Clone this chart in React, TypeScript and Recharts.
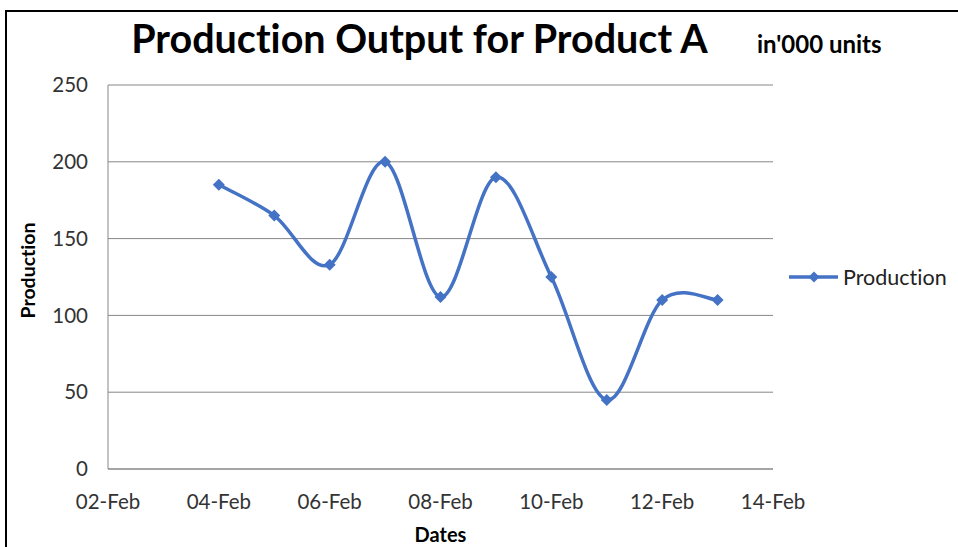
import React from "react";
import {
  LineChart,
  Line,
  XAxis,
  YAxis,
  CartesianGrid,
  Legend,
  Label,
} from "recharts";

// ---- data ----
const dates = ["04-Feb", "05-Feb", "06-Feb", "07-Feb", "08-Feb", "09-Feb", "10-Feb", "11-Feb", "12-Feb", "13-Feb"];
const production = [185, 165, 133, 200, 112, 190, 125, 45, 110, 110];
const xTickLabels = ["02-Feb", "04-Feb", "06-Feb", "08-Feb", "10-Feb", "12-Feb", "14-Feb"];
const yTicks = [0, 50, 100, 150, 200, 250];

const dayOf = (s: string) => parseInt(s.split("-")[0], 10);
const labelByDay: Record<number, string> = {};
xTickLabels.forEach((l) => (labelByDay[dayOf(l)] = l));
const xTicks = xTickLabels.map(dayOf);

const data = dates.map((d, i) => ({ day: dayOf(d), label: d, Production: production[i] }));

const BLUE = "#4472C4";
const GRID = "#878787";
const TICK = "#333333";

// Excel-like smoothing (Catmull-Rom style cubic Bezier)
function excelSmooth(context: any) {
  let pts: [number, number][] = [];
  return {
    areaStart() {},
    areaEnd() {},
    lineStart() {
      pts = [];
    },
    lineEnd() {
      const n = pts.length;
      if (n === 0) return;
      context.moveTo(pts[0][0], pts[0][1]);
      for (let i = 0; i < n - 1; i++) {
        const p0 = pts[i - 1] || pts[i];
        const p1 = pts[i];
        const p2 = pts[i + 1];
        const p3 = pts[i + 2] || pts[i + 1];
        context.bezierCurveTo(
          p1[0] + (p2[0] - p0[0]) / 6,
          p1[1] + (p2[1] - p0[1]) / 6,
          p2[0] - (p3[0] - p1[0]) / 6,
          p2[1] - (p3[1] - p1[1]) / 6,
          p2[0],
          p2[1]
        );
      }
    },
    point(x: number, y: number) {
      pts.push([+x, +y]);
    },
  };
}

const diamond = (cx: number, cy: number, r: number) =>
  `M${cx},${cy - r} L${cx + r},${cy} L${cx},${cy + r} L${cx - r},${cy} Z`;

const renderDot = (p: any) => {
  if (p.cx == null || p.cy == null) return <g key={p.index} />;
  return <path key={`dot-${p.index}`} d={diamond(p.cx, p.cy, 6)} fill={BLUE} stroke="none" />;
};

const renderLegend = (props: any) => {
  const { payload = [] } = props;
  return (
    <svg width={170} height={30} style={{ display: "block" }}>
      {payload.map((entry: any, i: number) => (
        <g key={i}>
          <line x1={3} y1={15} x2={52} y2={15} stroke={BLUE} strokeWidth={3.5} />
          <path d={diamond(28, 15, 5.5)} fill={BLUE} />
          <text
            x={57}
            y={15}
            dominantBaseline="central"
            fontSize={21.5}
            fill="#222"
            fontFamily="Lato"
            style={{ fontVariantLigatures: "none" }}
          >
            {entry.value}
          </text>
        </g>
      ))}
    </svg>
  );
};

export default function App() {
  return (
    <div
      style={{
        position: "absolute",
        left: 0,
        top: 0,
        width: 958,
        height: 547,
        overflow: "hidden",
        background: "#fff",
        fontFamily: "Lato, 'Noto Sans', sans-serif",
        fontVariantLigatures: "none",
      }}
    >
      <LineChart
        width={958}
        height={547}
        data={data}
        margin={{ top: 85, right: 185, bottom: 0, left: 18 }}
      >
        <CartesianGrid horizontal vertical={false} stroke={GRID} strokeWidth={1} />
        <XAxis
          dataKey="day"
          type="number"
          domain={[2, 14]}
          ticks={xTicks}
          tickFormatter={(v: number) => labelByDay[v] || ""}
          height={78}
          tickLine={false}
          tickSize={0}
          tickMargin={25}
          axisLine={{ stroke: GRID }}
          tick={{ fill: TICK, fontSize: 20.5 }}
          interval={0}
        >
          <Label
            value="Dates"
            position="insideBottom"
            offset={5}
            style={{ fontWeight: "bold", fontSize: 20, fill: "#000" }}
          />
        </XAxis>
        <YAxis
          type="number"
          domain={[0, 250]}
          ticks={yTicks}
          width={90}
          tickLine={false}
          tickSize={0}
          tickMargin={20}
          axisLine={{ stroke: GRID }}
          tick={{ fill: TICK, fontSize: 20.5 }}
          interval={0}
        >
          <Label
            value="Production"
            angle={-90}
            position="insideLeft"
            offset={10.5}
            dy={-6.5}
            style={{ textAnchor: "middle", fontWeight: "bold", fontSize: 19.5, fill: "#000" }}
          />
        </YAxis>
        <Legend
          verticalAlign="middle"
          align="center"
          layout="vertical"
          content={renderLegend}
          wrapperStyle={{ left: 786, top: 262, width: 170, height: 30 }}
        />
        <Line
          type={excelSmooth as any}
          dataKey="Production"
          name="Production"
          stroke={BLUE}
          strokeWidth={3.5}
          dot={renderDot}
          activeDot={false}
          isAnimationActive={false}
        />
      </LineChart>
      <svg
        width={958}
        height={547}
        style={{ position: "absolute", left: 0, top: 0, pointerEvents: "none" }}
      >
        <line x1={5} y1={11} x2={958} y2={11} stroke="#000" strokeWidth={2} />
        <line x1={6} y1={10} x2={6} y2={547} stroke="#000" strokeWidth={2} />
        <text
          x={419.5}
          y={53}
          textAnchor="middle"
          fontFamily="Lato"
          fontWeight="bold"
          fontSize={39.5}
          fill="#000"
        >
          Production Output for Product A
        </text>
        <text x={757} y={53} fontFamily="Lato" fontWeight="bold" fontSize={24} fill="#000">
          in'000 units
        </text>
      </svg>
    </div>
  );
}
